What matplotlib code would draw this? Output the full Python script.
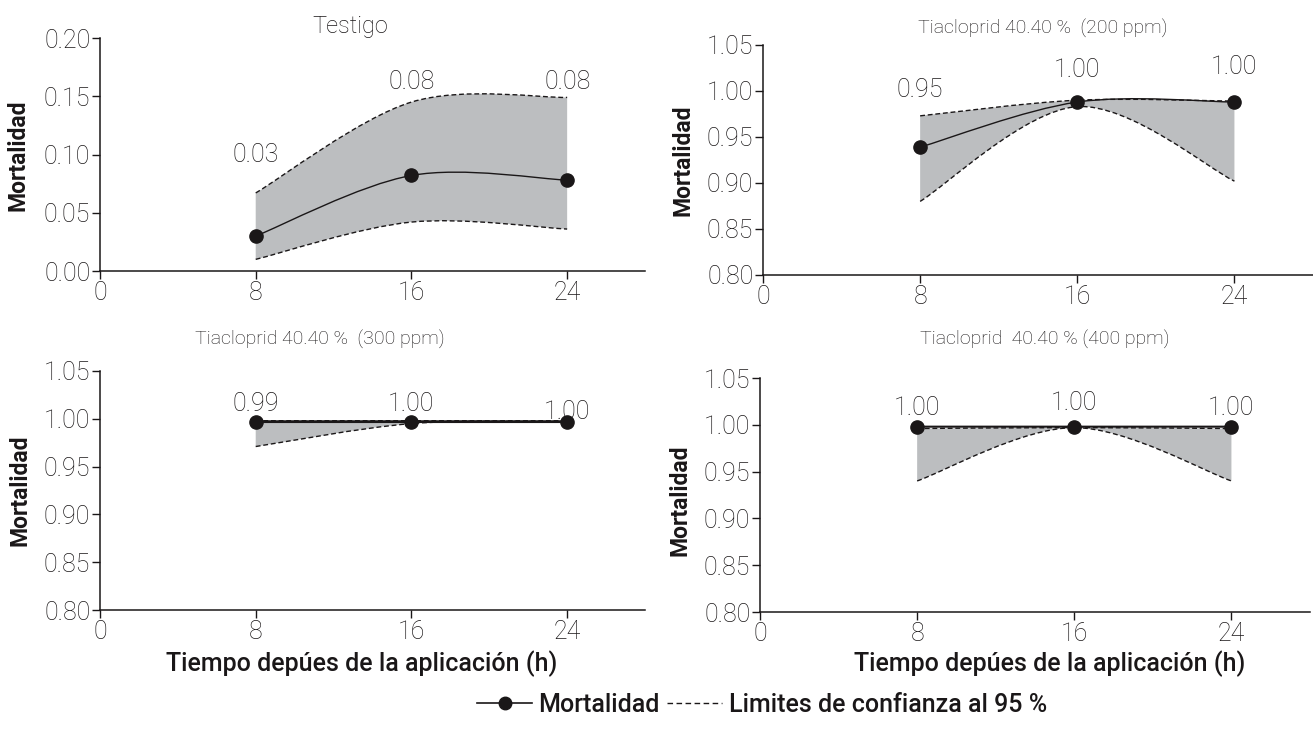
import matplotlib
matplotlib.use("Agg")
import matplotlib.pyplot as plt
from matplotlib.path import Path
from matplotlib.patches import PathPatch
from matplotlib.lines import Line2D

plt.rcParams['font.family'] = ['Roboto', 'DejaVu Sans']

# ---------------- data ----------------
hours = [8, 16, 24]

titles = ["Testigo",
          "Tiacloprid 40.40 %  (200 ppm)",
          "Tiacloprid 40.40 %  (300 ppm)",
          "Tiacloprid  40.40 % (400 ppm)"]

mort_testigo = [0.030, 0.082, 0.078]
upper_testigo = [0.067, 0.145, 0.149]
lower_testigo = [0.010, 0.042, 0.036]
labels_testigo = ["0.03", "0.08", "0.08"]
label_y_testigo = [0.100, 0.162, 0.162]

mort_200 = [0.939, 0.988, 0.988]
upper_200 = [0.973, 0.990, 0.989]
lower_200 = [0.880, 0.983, 0.902]
labels_200 = ["0.95", "1.00", "1.00"]
label_y_200 = [1.001, 1.023, 1.026]

mort_300 = [0.997, 0.997, 0.997]
upper_300 = [0.998, 0.998, 0.998]
lower_300 = [0.971, 0.995, 0.997]
labels_300 = ["0.99", "1.00", "1.00"]
label_y_300 = [1.015, 1.016, 1.007]

mort_400 = [0.998, 0.998, 0.998]
upper_400 = [0.996, 0.997, 0.996]
lower_400 = [0.940, 0.997, 0.940]
labels_400 = ["1.00", "1.00", "1.00"]
label_y_400 = [1.018, 1.023, 1.018]

x_ticks = [0, 8, 16, 24]
y_ticks_testigo = [0.00, 0.05, 0.10, 0.15, 0.20]
y_ticks_other = [0.80, 0.85, 0.90, 0.95, 1.00, 1.05]

# ---------------- helpers ----------------
W, H = 1313, 729
fig = plt.figure(figsize=(W / 100, H / 100), dpi=100)

DARK = '#1a1718'
FILL = '#bcbec0'
NUMSIZE = 18


def smooth_vertices(xs, ys):
    """Cubic Bezier (Catmull-Rom style) control points through data points."""
    pts = list(zip(xs, ys))
    verts = [pts[0]]
    n = len(pts)
    for i in range(n - 1):
        p0 = pts[i - 1] if i > 0 else pts[i]
        p1 = pts[i]
        p2 = pts[i + 1]
        p3 = pts[i + 2] if i + 2 < n else pts[i + 1]
        c1 = (p1[0] + (p2[0] - p0[0]) / 6, p1[1] + (p2[1] - p0[1]) / 6)
        c2 = (p2[0] - (p3[0] - p1[0]) / 6, p2[1] - (p3[1] - p1[1]) / 6)
        verts += [c1, c2, p2]
    return verts


def curve_path(xs, ys):
    v = smooth_vertices(xs, ys)
    codes = [Path.MOVETO] + [Path.CURVE4] * (len(v) - 1)
    return Path(v, codes)


def band_path(xs, up, lo):
    vu = smooth_vertices(xs, up)
    vl = smooth_vertices(xs[::-1], lo[::-1])
    verts = vu + vl + [vu[0]]
    codes = ([Path.MOVETO] + [Path.CURVE4] * (len(vu) - 1) +
             [Path.LINETO] + [Path.CURVE4] * (len(vl) - 1) + [Path.CLOSEPOLY])
    return Path(verts, codes)


def ax_rect(l, t, r, b):
    return [l / W, 1 - b / H, (r - l) / W, (b - t) / H]


def ftext(xp, yp, s, **kw):
    fig.text(xp / W, 1 - yp / H, s, ha='center', va='center', **kw)


def panel(rect, mort, up, lo, labels, label_y, ylim, yticks, yfmt, lw_main=1.0):
    ax = fig.add_axes(rect)
    ax.add_patch(PathPatch(band_path(hours, up, lo), facecolor=FILL,
                           edgecolor='none', zorder=1))
    for arr in (up, lo):
        ax.add_patch(PathPatch(curve_path(hours, arr), facecolor='none',
                               edgecolor=DARK, lw=1.0,
                               linestyle=(0, (3.5, 2)), zorder=2))
    ax.add_patch(PathPatch(curve_path(hours, mort), facecolor='none',
                           edgecolor=DARK, lw=lw_main, zorder=3))
    ax.plot(hours, mort, 'o', color=DARK, ms=9.5, zorder=4)
    for x, ly, s in zip(hours, label_y, labels):
        ax.text(x, ly, s, ha='center', va='center', fontsize=NUMSIZE,
                fontweight='light', color=DARK)
    ax.set_xlim(0, 28)
    ax.set_ylim(*ylim)
    ax.set_xticks(x_ticks)
    ax.set_yticks(yticks)
    ax.set_yticklabels([yfmt.format(v) for v in yticks])
    for s in ('top', 'right'):
        ax.spines[s].set_visible(False)
    for s in ('left', 'bottom'):
        ax.spines[s].set_color(DARK)
        ax.spines[s].set_linewidth(1.1)
    ax.tick_params(direction='out', length=6, width=1.0, color=DARK,
                   labelcolor=DARK, labelsize=NUMSIZE, pad=1)
    for t in ax.get_xticklabels() + ax.get_yticklabels():
        t.set_fontweight('light')
    ax.patch.set_alpha(0)
    return ax


ax1 = panel(ax_rect(100, 38, 645, 271), mort_testigo, upper_testigo, lower_testigo,
            labels_testigo, label_y_testigo, (0, 0.2), y_ticks_testigo, "{:.2f}")
ax2 = panel(ax_rect(763, 45, 1313, 275), mort_200, upper_200, lower_200,
            labels_200, label_y_200, (0.8, 1.05), y_ticks_other, "{:.2f}")
ax3 = panel(ax_rect(100, 371, 645, 610), mort_300, upper_300, lower_300,
            labels_300, label_y_300, (0.8, 1.05), y_ticks_other, "{:.2f}", lw_main=2.0)
ax4 = panel(ax_rect(760, 378, 1310, 612), mort_400, upper_400, lower_400,
            labels_400, label_y_400, (0.8, 1.05), y_ticks_other, "{:.2f}", lw_main=1.5)

# titles
ftext(350, 26, titles[0], fontsize=17, fontweight='light', color=DARK)
ftext(1043, 28, titles[1], fontsize=14, fontweight='light', color=DARK)
ftext(320, 340, titles[2], fontsize=14, fontweight='light', color=DARK)
ftext(1045, 340, titles[3], fontsize=14, fontweight='light', color=DARK)

# y labels
for xp, yp in ((18, 155), (683, 160), (20, 490), (680, 500)):
    ftext(xp, yp, "Mortalidad", fontsize=16.5, fontweight='bold', color=DARK,
          rotation=90)

# x labels
ftext(362, 664, "Tiempo depúes de la aplicación (h)", fontsize=18,
      fontweight='medium', color=DARK)
ftext(1050, 664, "Tiempo depúes de la aplicación (h)", fontsize=18,
      fontweight='medium', color=DARK)

# legend
handles = [Line2D([], [], color=DARK, lw=1.2, marker='o', ms=9),
           Line2D([], [], color=DARK, lw=1.0, linestyle=(0, (4, 2.5)))]
leg = fig.legend(handles, ["Mortalidad", "Limites de confianza al 95 %"],
                 loc='center', bbox_to_anchor=(762 / W, 1 - 705 / H), ncol=2,
                 frameon=False, handlelength=2.2, handletextpad=0.25,
                 columnspacing=0.3,
                 prop={'size': 18, 'weight': 'medium'})
for t in leg.get_texts():
    t.set_color(DARK)

fig.savefig("out.png", dpi=100)
